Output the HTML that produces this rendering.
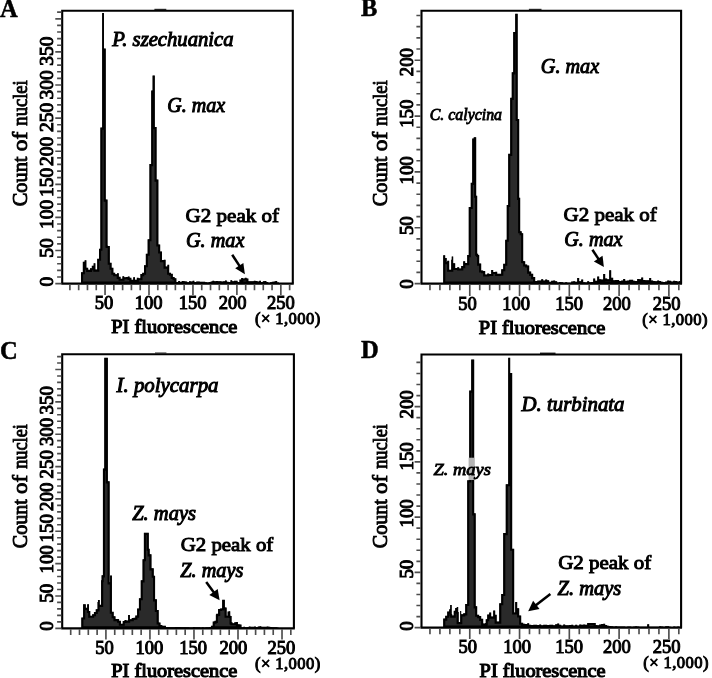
<!DOCTYPE html>
<html><head><meta charset="utf-8"><title>Flow cytometry histograms</title>
<style>
html,body{margin:0;padding:0;background:#fff;}
body{width:712px;height:678px;overflow:hidden;font-family:"Liberation Serif",serif;}
svg{display:block;font-family:"Liberation Serif",serif;filter:blur(0.35px);}
text{fill:#000;}
</style></head><body>
<svg width="712" height="678" viewBox="0 0 712 678">
<rect width="712" height="678" fill="#fff"/>
<g id="panelA">
<defs><clipPath id="chA0"><path d="M81.00,283.60L81.00,272.26L82.80,272.26L82.80,261.73L84.60,261.73L84.60,260.13L86.40,260.13L86.40,267.73L88.20,267.73L88.20,269.85L90.00,269.85L90.00,268.18L91.80,268.18L91.80,265.85L93.60,265.85L93.60,263.14L95.40,263.14L95.40,269.60L97.20,269.60L97.20,258.66L99.00,258.66L99.00,248.67L100.35,248.67L100.35,127.60L102.15,127.60L102.15,13.10L103.95,13.10L103.95,48.60L105.75,48.60L105.75,199.60L107.55,199.60L107.55,245.73L108.00,245.73L108.00,245.95L109.80,245.95L109.80,262.63L111.60,262.63L111.60,267.69L113.40,267.69L113.40,272.65L115.20,272.65L115.20,274.14L117.00,274.14L117.00,273.15L118.80,273.15L118.80,276.80L120.60,276.80L120.60,278.66L122.40,278.66L122.40,276.32L124.20,276.32L124.20,277.27L126.00,277.27L126.00,276.92L127.80,276.92L127.80,276.60L129.60,276.60L129.60,277.81L131.40,277.81L131.40,279.86L133.20,279.86L133.20,277.28L135.00,277.28L135.00,279.76L136.80,279.76L136.80,277.80L138.60,277.80L138.60,278.26L140.40,278.26L140.40,274.03L142.20,274.03L142.20,272.65L144.00,272.65L144.00,265.18L145.80,265.18L145.80,253.68L147.60,253.68L147.60,239.24L149.40,239.24L149.40,164.10L151.20,164.10L151.20,90.60L152.55,90.60L152.55,75.60L154.80,75.60L154.80,127.10L156.60,127.10L156.60,179.60L158.40,179.60L158.40,244.48L160.20,244.48L160.20,251.48L162.00,251.48L162.00,260.08L163.80,260.08L163.80,259.81L165.60,259.81L165.60,266.55L167.40,266.55L167.40,264.67L169.20,264.67L169.20,272.71L171.00,272.71L171.00,273.68L172.80,273.68L172.80,276.90L174.60,276.90L174.60,278.15L176.40,278.15L176.40,281.91L178.20,281.91L178.20,280.99L180.00,280.99L180.00,281.72L181.80,281.72L181.80,280.88L183.60,280.88L183.60,281.31L185.40,281.31L185.40,281.62L187.20,281.62L187.20,282.20L189.00,282.20L189.00,281.26L190.80,281.26L190.80,281.46L192.60,281.46L192.60,280.75L194.40,280.75L194.40,282.00L196.20,282.00L196.20,281.44L198.00,281.44L198.00,281.49L199.80,281.49L199.80,281.63L201.60,281.63L201.60,281.66L203.40,281.66L203.40,281.67L205.20,281.67L205.20,282.14L207.00,282.14L207.00,282.39L208.80,282.39L208.80,282.00L210.60,282.00L210.60,281.39L212.40,281.39L212.40,280.82L214.20,280.82L214.20,281.14L216.00,281.14L216.00,281.08L217.80,281.08L217.80,281.25L219.60,281.25L219.60,281.29L221.40,281.29L221.40,281.60L223.20,281.60L223.20,281.23L225.00,281.23L225.00,280.57L226.80,280.57L226.80,281.84L228.60,281.84L228.60,282.04L230.40,282.04L230.40,280.33L232.20,280.33L232.20,281.35L234.00,281.35L234.00,280.83L235.80,280.83L235.80,280.85L237.60,280.85L237.60,282.08L239.40,282.08L239.40,279.55L241.20,279.55L241.20,277.99L243.00,277.99L243.00,278.42L244.80,278.42L244.80,277.84L246.60,277.84L246.60,278.47L248.40,278.47L248.40,281.36L250.20,281.36L250.20,281.24L252.00,281.24L252.00,281.17L253.80,281.17L253.80,280.72L255.60,280.72L255.60,281.03L257.40,281.03L257.40,281.49L259.20,281.49L259.20,280.69L261.00,280.69L261.00,282.08L262.80,282.08L262.80,281.13L264.60,281.13L264.60,280.97L266.40,280.97L266.40,281.88L268.20,281.88L268.20,282.65L270.00,282.65L270.00,282.31L271.80,282.31L271.80,281.65L273.60,281.65L273.60,281.51L275.40,281.51L275.40,280.94L277.20,280.94L277.20,282.48L279.00,282.48L279.00,283.60Z"/></clipPath></defs>
<path d="M81.00,283.60L81.00,272.26L82.80,272.26L82.80,261.73L84.60,261.73L84.60,260.13L86.40,260.13L86.40,267.73L88.20,267.73L88.20,269.85L90.00,269.85L90.00,268.18L91.80,268.18L91.80,265.85L93.60,265.85L93.60,263.14L95.40,263.14L95.40,269.60L97.20,269.60L97.20,258.66L99.00,258.66L99.00,248.67L100.35,248.67L100.35,127.60L102.15,127.60L102.15,13.10L103.95,13.10L103.95,48.60L105.75,48.60L105.75,199.60L107.55,199.60L107.55,245.73L108.00,245.73L108.00,245.95L109.80,245.95L109.80,262.63L111.60,262.63L111.60,267.69L113.40,267.69L113.40,272.65L115.20,272.65L115.20,274.14L117.00,274.14L117.00,273.15L118.80,273.15L118.80,276.80L120.60,276.80L120.60,278.66L122.40,278.66L122.40,276.32L124.20,276.32L124.20,277.27L126.00,277.27L126.00,276.92L127.80,276.92L127.80,276.60L129.60,276.60L129.60,277.81L131.40,277.81L131.40,279.86L133.20,279.86L133.20,277.28L135.00,277.28L135.00,279.76L136.80,279.76L136.80,277.80L138.60,277.80L138.60,278.26L140.40,278.26L140.40,274.03L142.20,274.03L142.20,272.65L144.00,272.65L144.00,265.18L145.80,265.18L145.80,253.68L147.60,253.68L147.60,239.24L149.40,239.24L149.40,164.10L151.20,164.10L151.20,90.60L152.55,90.60L152.55,75.60L154.80,75.60L154.80,127.10L156.60,127.10L156.60,179.60L158.40,179.60L158.40,244.48L160.20,244.48L160.20,251.48L162.00,251.48L162.00,260.08L163.80,260.08L163.80,259.81L165.60,259.81L165.60,266.55L167.40,266.55L167.40,264.67L169.20,264.67L169.20,272.71L171.00,272.71L171.00,273.68L172.80,273.68L172.80,276.90L174.60,276.90L174.60,278.15L176.40,278.15L176.40,281.91L178.20,281.91L178.20,280.99L180.00,280.99L180.00,281.72L181.80,281.72L181.80,280.88L183.60,280.88L183.60,281.31L185.40,281.31L185.40,281.62L187.20,281.62L187.20,282.20L189.00,282.20L189.00,281.26L190.80,281.26L190.80,281.46L192.60,281.46L192.60,280.75L194.40,280.75L194.40,282.00L196.20,282.00L196.20,281.44L198.00,281.44L198.00,281.49L199.80,281.49L199.80,281.63L201.60,281.63L201.60,281.66L203.40,281.66L203.40,281.67L205.20,281.67L205.20,282.14L207.00,282.14L207.00,282.39L208.80,282.39L208.80,282.00L210.60,282.00L210.60,281.39L212.40,281.39L212.40,280.82L214.20,280.82L214.20,281.14L216.00,281.14L216.00,281.08L217.80,281.08L217.80,281.25L219.60,281.25L219.60,281.29L221.40,281.29L221.40,281.60L223.20,281.60L223.20,281.23L225.00,281.23L225.00,280.57L226.80,280.57L226.80,281.84L228.60,281.84L228.60,282.04L230.40,282.04L230.40,280.33L232.20,280.33L232.20,281.35L234.00,281.35L234.00,280.83L235.80,280.83L235.80,280.85L237.60,280.85L237.60,282.08L239.40,282.08L239.40,279.55L241.20,279.55L241.20,277.99L243.00,277.99L243.00,278.42L244.80,278.42L244.80,277.84L246.60,277.84L246.60,278.47L248.40,278.47L248.40,281.36L250.20,281.36L250.20,281.24L252.00,281.24L252.00,281.17L253.80,281.17L253.80,280.72L255.60,280.72L255.60,281.03L257.40,281.03L257.40,281.49L259.20,281.49L259.20,280.69L261.00,280.69L261.00,282.08L262.80,282.08L262.80,281.13L264.60,281.13L264.60,280.97L266.40,280.97L266.40,281.88L268.20,281.88L268.20,282.65L270.00,282.65L270.00,282.31L271.80,282.31L271.80,281.65L273.60,281.65L273.60,281.51L275.40,281.51L275.40,280.94L277.20,280.94L277.20,282.48L279.00,282.48L279.00,283.60Z" fill="#2a2a2a" stroke="#000" stroke-width="4.2" stroke-linejoin="miter" clip-path="url(#chA0)"/>
<path d="M62.2,283.6L62.2,10.7L292.8,10.7L292.8,283.6" fill="none" stroke="#000" stroke-width="2.1" stroke-linejoin="miter"/>
<path d="M61.25,283.6L293.75,283.6" fill="none" stroke="#000" stroke-width="2.2"/>
<path d="M69.89,284.6v5.6M78.68,284.6v5.6M87.47,284.6v5.6M96.26,284.6v5.6M105.05,284.6v10.3M113.84,284.6v5.6M122.63,284.6v5.6M131.42,284.6v5.6M140.21,284.6v5.6M149.00,284.6v10.3M157.79,284.6v5.6M166.58,284.6v5.6M175.37,284.6v5.6M184.16,284.6v5.6M192.95,284.6v10.3M201.74,284.6v5.6M210.53,284.6v5.6M219.32,284.6v5.6M228.11,284.6v5.6M236.90,284.6v10.3M245.69,284.6v5.6M254.48,284.6v5.6M263.27,284.6v5.6M272.06,284.6v5.6M280.85,284.6v10.3M289.64,284.6v5.6" stroke="#4d4d4d" stroke-width="1.65" fill="none"/>
<path d="M61.300000000000004,283.60h-6.0M61.300000000000004,276.98h-4.2M61.300000000000004,270.36h-4.2M61.300000000000004,263.74h-4.2M61.300000000000004,257.12h-4.2M61.300000000000004,250.50h-6.0M61.300000000000004,243.88h-4.2M61.300000000000004,237.26h-4.2M61.300000000000004,230.64h-4.2M61.300000000000004,224.02h-4.2M61.300000000000004,217.40h-6.0M61.300000000000004,210.78h-4.2M61.300000000000004,204.16h-4.2M61.300000000000004,197.54h-4.2M61.300000000000004,190.92h-4.2M61.300000000000004,184.30h-6.0M61.300000000000004,177.68h-4.2M61.300000000000004,171.06h-4.2M61.300000000000004,164.44h-4.2M61.300000000000004,157.82h-4.2M61.300000000000004,151.20h-6.0M61.300000000000004,144.58h-4.2M61.300000000000004,137.96h-4.2M61.300000000000004,131.34h-4.2M61.300000000000004,124.72h-4.2M61.300000000000004,118.10h-6.0M61.300000000000004,111.48h-4.2M61.300000000000004,104.86h-4.2M61.300000000000004,98.24h-4.2M61.300000000000004,91.62h-4.2M61.300000000000004,85.00h-6.0M61.300000000000004,78.38h-4.2M61.300000000000004,71.76h-4.2M61.300000000000004,65.14h-4.2M61.300000000000004,58.52h-4.2M61.300000000000004,51.90h-6.0M61.300000000000004,45.28h-4.2M61.300000000000004,38.66h-4.2M61.300000000000004,32.04h-4.2M61.300000000000004,25.42h-4.2M61.300000000000004,18.80h-6.0M61.300000000000004,12.18h-4.2" stroke="#4d4d4d" stroke-width="1.65" fill="none"/>
</g>
<g id="panelB">
<defs><clipPath id="chB0"><path d="M443.20,283.60L443.20,255.33L445.20,255.33L445.20,258.10L446.70,258.10L446.70,262.10L447.20,262.10L447.20,260.76L449.20,260.76L449.20,269.76L451.20,269.76L451.20,259.86L451.70,259.86L451.70,256.40L453.20,256.40L453.20,263.14L455.20,263.14L455.20,267.94L457.20,267.94L457.20,267.31L459.20,267.31L459.20,268.51L461.20,268.51L461.20,266.05L463.20,266.05L463.20,261.20L465.20,261.20L465.20,263.03L467.20,263.03L467.20,255.11L468.70,255.11L468.70,207.00L470.70,207.00L470.70,182.80L472.20,182.80L472.20,138.60L473.70,138.60L473.70,137.30L476.20,137.30L476.20,195.70L477.20,195.70L477.20,253.70L478.20,253.70L478.20,254.98L479.20,254.98L479.20,263.62L481.20,263.62L481.20,270.51L483.20,270.51L483.20,271.05L485.20,271.05L485.20,274.52L487.20,274.52L487.20,273.38L489.20,273.38L489.20,274.01L491.20,274.01L491.20,269.90L493.20,269.90L493.20,272.02L495.20,272.02L495.20,271.75L497.20,271.75L497.20,273.82L499.20,273.82L499.20,273.76L501.20,273.76L501.20,269.19L503.20,269.19L503.20,263.71L505.20,263.71L505.20,239.70L506.70,239.70L506.70,205.00L508.20,205.00L508.20,153.80L510.20,153.80L510.20,97.80L511.70,97.80L511.70,72.30L513.20,72.30L513.20,31.90L515.20,31.90L515.20,13.80L517.70,13.80L517.70,119.00L519.20,119.00L519.20,197.80L520.20,197.80L520.20,231.20L521.70,231.20L521.70,233.13L523.20,233.13L523.20,260.90L523.70,260.90L523.70,261.26L525.20,261.26L525.20,264.46L527.20,264.46L527.20,265.48L529.20,265.48L529.20,271.54L531.20,271.54L531.20,273.85L533.20,273.85L533.20,277.12L535.20,277.12L535.20,280.93L537.20,280.93L537.20,280.52L539.20,280.52L539.20,280.50L541.20,280.50L541.20,279.25L543.20,279.25L543.20,280.42L545.20,280.42L545.20,279.48L547.20,279.48L547.20,280.21L549.20,280.21L549.20,281.80L551.20,281.80L551.20,280.84L553.20,280.84L553.20,280.60L555.20,280.60L555.20,281.18L557.20,281.18L557.20,282.42L559.20,282.42L559.20,281.96L561.20,281.96L561.20,282.36L563.20,282.36L563.20,282.71L565.20,282.71L565.20,282.36L567.20,282.36L567.20,282.71L569.20,282.71L569.20,282.64L571.20,282.64L571.20,281.55L573.20,281.55L573.20,281.33L575.20,281.33L575.20,281.70L577.20,281.70L577.20,277.90L579.20,277.90L579.20,281.20L581.20,281.20L581.20,279.60L583.20,279.60L583.20,282.28L585.20,282.28L585.20,282.39L587.20,282.39L587.20,281.18L589.20,281.18L589.20,282.16L591.20,282.16L591.20,282.03L593.20,282.03L593.20,278.60L595.20,278.60L595.20,280.67L597.20,280.67L597.20,276.60L599.20,276.60L599.20,279.32L601.20,279.32L601.20,279.59L603.20,279.59L603.20,274.10L605.20,274.10L605.20,278.61L607.20,278.61L607.20,279.15L609.20,279.15L609.20,270.30L611.20,270.30L611.20,277.83L613.20,277.83L613.20,280.30L615.20,280.30L615.20,280.06L617.20,280.06L617.20,280.10L619.20,280.10L619.20,280.94L621.20,280.94L621.20,280.58L623.20,280.58L623.20,279.10L625.20,279.10L625.20,280.68L627.20,280.68L627.20,280.38L629.20,280.38L629.20,279.73L631.20,279.73L631.20,279.81L633.20,279.81L633.20,280.69L635.20,280.69L635.20,280.98L637.20,280.98L637.20,278.99L639.20,278.99L639.20,279.35L641.20,279.35L641.20,277.60L643.20,277.60L643.20,279.89L645.20,279.89L645.20,280.31L647.20,280.31L647.20,280.18L649.20,280.18L649.20,278.10L651.20,278.10L651.20,280.61L653.20,280.61L653.20,281.12L655.20,281.12L655.20,281.17L657.20,281.17L657.20,280.52L659.20,280.52L659.20,280.97L661.20,280.97L661.20,281.75L663.20,281.75L663.20,281.89L665.20,281.89L665.20,281.43L667.20,281.43L667.20,280.59L669.20,280.59L669.20,280.73L671.20,280.73L671.20,281.53L673.20,281.53L673.20,280.67L675.20,280.67L675.20,281.06L677.20,281.06L677.20,281.61L679.20,281.61L679.20,281.11L680.50,281.11L680.50,283.60Z"/></clipPath></defs>
<path d="M443.20,283.60L443.20,255.33L445.20,255.33L445.20,258.10L446.70,258.10L446.70,262.10L447.20,262.10L447.20,260.76L449.20,260.76L449.20,269.76L451.20,269.76L451.20,259.86L451.70,259.86L451.70,256.40L453.20,256.40L453.20,263.14L455.20,263.14L455.20,267.94L457.20,267.94L457.20,267.31L459.20,267.31L459.20,268.51L461.20,268.51L461.20,266.05L463.20,266.05L463.20,261.20L465.20,261.20L465.20,263.03L467.20,263.03L467.20,255.11L468.70,255.11L468.70,207.00L470.70,207.00L470.70,182.80L472.20,182.80L472.20,138.60L473.70,138.60L473.70,137.30L476.20,137.30L476.20,195.70L477.20,195.70L477.20,253.70L478.20,253.70L478.20,254.98L479.20,254.98L479.20,263.62L481.20,263.62L481.20,270.51L483.20,270.51L483.20,271.05L485.20,271.05L485.20,274.52L487.20,274.52L487.20,273.38L489.20,273.38L489.20,274.01L491.20,274.01L491.20,269.90L493.20,269.90L493.20,272.02L495.20,272.02L495.20,271.75L497.20,271.75L497.20,273.82L499.20,273.82L499.20,273.76L501.20,273.76L501.20,269.19L503.20,269.19L503.20,263.71L505.20,263.71L505.20,239.70L506.70,239.70L506.70,205.00L508.20,205.00L508.20,153.80L510.20,153.80L510.20,97.80L511.70,97.80L511.70,72.30L513.20,72.30L513.20,31.90L515.20,31.90L515.20,13.80L517.70,13.80L517.70,119.00L519.20,119.00L519.20,197.80L520.20,197.80L520.20,231.20L521.70,231.20L521.70,233.13L523.20,233.13L523.20,260.90L523.70,260.90L523.70,261.26L525.20,261.26L525.20,264.46L527.20,264.46L527.20,265.48L529.20,265.48L529.20,271.54L531.20,271.54L531.20,273.85L533.20,273.85L533.20,277.12L535.20,277.12L535.20,280.93L537.20,280.93L537.20,280.52L539.20,280.52L539.20,280.50L541.20,280.50L541.20,279.25L543.20,279.25L543.20,280.42L545.20,280.42L545.20,279.48L547.20,279.48L547.20,280.21L549.20,280.21L549.20,281.80L551.20,281.80L551.20,280.84L553.20,280.84L553.20,280.60L555.20,280.60L555.20,281.18L557.20,281.18L557.20,282.42L559.20,282.42L559.20,281.96L561.20,281.96L561.20,282.36L563.20,282.36L563.20,282.71L565.20,282.71L565.20,282.36L567.20,282.36L567.20,282.71L569.20,282.71L569.20,282.64L571.20,282.64L571.20,281.55L573.20,281.55L573.20,281.33L575.20,281.33L575.20,281.70L577.20,281.70L577.20,277.90L579.20,277.90L579.20,281.20L581.20,281.20L581.20,279.60L583.20,279.60L583.20,282.28L585.20,282.28L585.20,282.39L587.20,282.39L587.20,281.18L589.20,281.18L589.20,282.16L591.20,282.16L591.20,282.03L593.20,282.03L593.20,278.60L595.20,278.60L595.20,280.67L597.20,280.67L597.20,276.60L599.20,276.60L599.20,279.32L601.20,279.32L601.20,279.59L603.20,279.59L603.20,274.10L605.20,274.10L605.20,278.61L607.20,278.61L607.20,279.15L609.20,279.15L609.20,270.30L611.20,270.30L611.20,277.83L613.20,277.83L613.20,280.30L615.20,280.30L615.20,280.06L617.20,280.06L617.20,280.10L619.20,280.10L619.20,280.94L621.20,280.94L621.20,280.58L623.20,280.58L623.20,279.10L625.20,279.10L625.20,280.68L627.20,280.68L627.20,280.38L629.20,280.38L629.20,279.73L631.20,279.73L631.20,279.81L633.20,279.81L633.20,280.69L635.20,280.69L635.20,280.98L637.20,280.98L637.20,278.99L639.20,278.99L639.20,279.35L641.20,279.35L641.20,277.60L643.20,277.60L643.20,279.89L645.20,279.89L645.20,280.31L647.20,280.31L647.20,280.18L649.20,280.18L649.20,278.10L651.20,278.10L651.20,280.61L653.20,280.61L653.20,281.12L655.20,281.12L655.20,281.17L657.20,281.17L657.20,280.52L659.20,280.52L659.20,280.97L661.20,280.97L661.20,281.75L663.20,281.75L663.20,281.89L665.20,281.89L665.20,281.43L667.20,281.43L667.20,280.59L669.20,280.59L669.20,280.73L671.20,280.73L671.20,281.53L673.20,281.53L673.20,280.67L675.20,280.67L675.20,281.06L677.20,281.06L677.20,281.61L679.20,281.61L679.20,281.11L680.50,281.11L680.50,283.60Z" fill="#2a2a2a" stroke="#000" stroke-width="4.2" stroke-linejoin="miter" clip-path="url(#chB0)"/>
<path d="M421.5,283.6L421.5,10.7L681.1,10.7L681.1,283.6" fill="none" stroke="#000" stroke-width="2.1" stroke-linejoin="miter"/>
<path d="M420.55,283.6L682.0500000000001,283.6" fill="none" stroke="#000" stroke-width="2.2"/>
<path d="M429.95,284.6v5.6M439.91,284.6v5.6M449.87,284.6v5.6M459.82,284.6v5.6M469.77,284.6v11.3M479.73,284.6v5.6M489.69,284.6v5.6M499.64,284.6v5.6M509.60,284.6v5.6M519.55,284.6v11.3M529.50,284.6v5.6M539.46,284.6v5.6M549.41,284.6v5.6M559.37,284.6v5.6M569.33,284.6v11.3M579.28,284.6v5.6M589.24,284.6v5.6M599.19,284.6v5.6M609.14,284.6v5.6M619.10,284.6v11.3M629.06,284.6v5.6M639.01,284.6v5.6M648.97,284.6v5.6M658.92,284.6v5.6M668.88,284.6v11.3M678.83,284.6v5.6" stroke="#4d4d4d" stroke-width="1.65" fill="none"/>
<path d="M420.6,283.60h-6.0M420.6,272.43h-4.2M420.6,261.26h-4.2M420.6,250.09h-4.2M420.6,238.92h-4.2M420.6,227.75h-6.0M420.6,216.58h-4.2M420.6,205.41h-4.2M420.6,194.24h-4.2M420.6,183.07h-4.2M420.6,171.90h-6.0M420.6,160.73h-4.2M420.6,149.56h-4.2M420.6,138.39h-4.2M420.6,127.22h-4.2M420.6,116.05h-6.0M420.6,104.88h-4.2M420.6,93.71h-4.2M420.6,82.54h-4.2M420.6,71.37h-4.2M420.6,60.20h-6.0M420.6,49.03h-4.2M420.6,37.86h-4.2M420.6,26.69h-4.2M420.6,15.52h-4.2" stroke="#4d4d4d" stroke-width="1.65" fill="none"/>
</g>
<g id="panelC">
<defs><clipPath id="chC0"><path d="M81.30,628.30L81.30,617.40L83.10,617.40L83.10,604.30L85.80,604.30L85.80,607.80L87.15,607.80L87.15,604.30L88.95,604.30L88.95,610.91L90.30,610.91L90.30,615.76L92.10,615.76L92.10,614.20L93.90,614.20L93.90,611.94L95.70,611.94L95.70,609.37L97.50,609.37L97.50,602.04L97.95,602.04L97.95,600.00L99.75,600.00L99.75,604.86L101.10,604.86L101.10,580.22L101.55,580.22L101.55,575.30L102.90,575.30L102.90,468.60L104.25,468.60L104.25,357.80L107.85,357.80L107.85,481.30L109.65,481.30L109.65,582.30L110.10,582.30L110.10,575.62L111.90,575.62L111.90,611.72L113.70,611.72L113.70,616.23L115.50,616.23L115.50,619.03L117.30,619.03L117.30,619.01L119.10,619.01L119.10,620.77L120.90,620.77L120.90,623.68L122.70,623.68L122.70,620.90L124.50,620.90L124.50,619.97L126.30,619.97L126.30,620.59L128.10,620.59L128.10,615.11L129.90,615.11L129.90,619.27L131.70,619.27L131.70,617.92L133.50,617.92L133.50,617.66L135.30,617.66L135.30,615.61L137.10,615.61L137.10,608.46L138.90,608.46L138.90,598.13L140.70,598.13L140.70,580.35L142.50,580.35L142.50,559.19L143.85,559.19L143.85,532.80L148.80,532.80L148.80,548.77L149.70,548.77L149.70,554.30L151.50,554.30L151.50,568.30L153.75,568.30L153.75,575.71L155.10,575.71L155.10,599.30L156.90,599.30L156.90,609.94L158.70,609.94L158.70,622.50L160.50,622.50L160.50,625.01L162.30,625.01L162.30,625.70L164.10,625.70L164.10,625.85L165.90,625.85L165.90,626.96L167.70,626.96L167.70,627.11L169.50,627.11L169.50,627.16L171.30,627.16L171.30,627.13L173.10,627.13L173.10,627.37L174.90,627.37L174.90,627.11L176.70,627.11L176.70,626.95L178.50,626.95L178.50,627.07L180.30,627.07L180.30,627.23L182.10,627.23L182.10,627.31L183.90,627.31L183.90,627.30L185.70,627.30L185.70,627.35L187.50,627.35L187.50,627.37L189.30,627.37L189.30,627.41L191.10,627.41L191.10,627.45L192.90,627.45L192.90,626.92L194.70,626.92L194.70,627.16L196.50,627.16L196.50,627.19L198.30,627.19L198.30,627.25L200.10,627.25L200.10,627.45L201.90,627.45L201.90,627.31L203.70,627.31L203.70,627.52L205.50,627.52L205.50,627.23L207.30,627.23L207.30,627.29L209.10,627.29L209.10,627.03L210.90,627.03L210.90,625.84L212.70,625.84L212.70,621.53L214.50,621.53L214.50,620.80L215.85,620.80L215.85,614.50L216.30,614.50L216.30,613.80L218.10,613.80L218.10,608.90L219.90,608.90L219.90,608.45L221.70,608.45L221.70,608.30L222.15,608.30L222.15,599.80L224.85,599.80L224.85,607.30L225.30,607.30L225.30,607.50L226.65,607.50L226.65,615.70L227.55,615.70L227.55,611.40L228.90,611.40L228.90,611.35L230.25,611.35L230.25,615.70L230.70,615.70L230.70,615.90L231.60,615.90L231.60,622.30L232.50,622.30L232.50,623.17L234.30,623.17L234.30,622.30L236.10,622.30L236.10,622.10L237.90,622.10L237.90,624.30L239.70,624.30L239.70,624.53L241.50,624.53L241.50,627.15L243.30,627.15L243.30,626.83L245.10,626.83L245.10,627.23L246.90,627.23L246.90,627.11L248.70,627.11L248.70,626.61L250.50,626.61L250.50,626.72L252.30,626.72L252.30,626.74L254.10,626.74L254.10,626.49L255.90,626.49L255.90,627.03L257.70,627.03L257.70,626.52L259.50,626.52L259.50,626.28L261.30,626.28L261.30,626.77L263.10,626.77L263.10,626.76L264.90,626.76L264.90,626.82L266.70,626.82L266.70,626.55L268.50,626.55L268.50,626.63L270.30,626.63L270.30,626.99L272.10,626.99L272.10,627.33L273.90,627.33L273.90,627.19L275.70,627.19L275.70,627.35L277.50,627.35L277.50,627.72L279.00,627.72L279.00,628.30Z"/></clipPath></defs>
<path d="M81.30,628.30L81.30,617.40L83.10,617.40L83.10,604.30L85.80,604.30L85.80,607.80L87.15,607.80L87.15,604.30L88.95,604.30L88.95,610.91L90.30,610.91L90.30,615.76L92.10,615.76L92.10,614.20L93.90,614.20L93.90,611.94L95.70,611.94L95.70,609.37L97.50,609.37L97.50,602.04L97.95,602.04L97.95,600.00L99.75,600.00L99.75,604.86L101.10,604.86L101.10,580.22L101.55,580.22L101.55,575.30L102.90,575.30L102.90,468.60L104.25,468.60L104.25,357.80L107.85,357.80L107.85,481.30L109.65,481.30L109.65,582.30L110.10,582.30L110.10,575.62L111.90,575.62L111.90,611.72L113.70,611.72L113.70,616.23L115.50,616.23L115.50,619.03L117.30,619.03L117.30,619.01L119.10,619.01L119.10,620.77L120.90,620.77L120.90,623.68L122.70,623.68L122.70,620.90L124.50,620.90L124.50,619.97L126.30,619.97L126.30,620.59L128.10,620.59L128.10,615.11L129.90,615.11L129.90,619.27L131.70,619.27L131.70,617.92L133.50,617.92L133.50,617.66L135.30,617.66L135.30,615.61L137.10,615.61L137.10,608.46L138.90,608.46L138.90,598.13L140.70,598.13L140.70,580.35L142.50,580.35L142.50,559.19L143.85,559.19L143.85,532.80L148.80,532.80L148.80,548.77L149.70,548.77L149.70,554.30L151.50,554.30L151.50,568.30L153.75,568.30L153.75,575.71L155.10,575.71L155.10,599.30L156.90,599.30L156.90,609.94L158.70,609.94L158.70,622.50L160.50,622.50L160.50,625.01L162.30,625.01L162.30,625.70L164.10,625.70L164.10,625.85L165.90,625.85L165.90,626.96L167.70,626.96L167.70,627.11L169.50,627.11L169.50,627.16L171.30,627.16L171.30,627.13L173.10,627.13L173.10,627.37L174.90,627.37L174.90,627.11L176.70,627.11L176.70,626.95L178.50,626.95L178.50,627.07L180.30,627.07L180.30,627.23L182.10,627.23L182.10,627.31L183.90,627.31L183.90,627.30L185.70,627.30L185.70,627.35L187.50,627.35L187.50,627.37L189.30,627.37L189.30,627.41L191.10,627.41L191.10,627.45L192.90,627.45L192.90,626.92L194.70,626.92L194.70,627.16L196.50,627.16L196.50,627.19L198.30,627.19L198.30,627.25L200.10,627.25L200.10,627.45L201.90,627.45L201.90,627.31L203.70,627.31L203.70,627.52L205.50,627.52L205.50,627.23L207.30,627.23L207.30,627.29L209.10,627.29L209.10,627.03L210.90,627.03L210.90,625.84L212.70,625.84L212.70,621.53L214.50,621.53L214.50,620.80L215.85,620.80L215.85,614.50L216.30,614.50L216.30,613.80L218.10,613.80L218.10,608.90L219.90,608.90L219.90,608.45L221.70,608.45L221.70,608.30L222.15,608.30L222.15,599.80L224.85,599.80L224.85,607.30L225.30,607.30L225.30,607.50L226.65,607.50L226.65,615.70L227.55,615.70L227.55,611.40L228.90,611.40L228.90,611.35L230.25,611.35L230.25,615.70L230.70,615.70L230.70,615.90L231.60,615.90L231.60,622.30L232.50,622.30L232.50,623.17L234.30,623.17L234.30,622.30L236.10,622.30L236.10,622.10L237.90,622.10L237.90,624.30L239.70,624.30L239.70,624.53L241.50,624.53L241.50,627.15L243.30,627.15L243.30,626.83L245.10,626.83L245.10,627.23L246.90,627.23L246.90,627.11L248.70,627.11L248.70,626.61L250.50,626.61L250.50,626.72L252.30,626.72L252.30,626.74L254.10,626.74L254.10,626.49L255.90,626.49L255.90,627.03L257.70,627.03L257.70,626.52L259.50,626.52L259.50,626.28L261.30,626.28L261.30,626.77L263.10,626.77L263.10,626.76L264.90,626.76L264.90,626.82L266.70,626.82L266.70,626.55L268.50,626.55L268.50,626.63L270.30,626.63L270.30,626.99L272.10,626.99L272.10,627.33L273.90,627.33L273.90,627.19L275.70,627.19L275.70,627.35L277.50,627.35L277.50,627.72L279.00,627.72L279.00,628.30Z" fill="#2a2a2a" stroke="#000" stroke-width="4.2" stroke-linejoin="miter" clip-path="url(#chC0)"/>
<path d="M62.2,628.3L62.2,354.3L293.9,354.3L293.9,628.3" fill="none" stroke="#000" stroke-width="2.1" stroke-linejoin="miter"/>
<path d="M61.25,628.3L294.84999999999997,628.3" fill="none" stroke="#000" stroke-width="2.2"/>
<path d="M70.70,629.3v5.6M79.51,629.3v5.6M88.31,629.3v5.6M97.12,629.3v5.6M105.92,629.3v10.3M114.73,629.3v5.6M123.53,629.3v5.6M132.34,629.3v5.6M141.14,629.3v5.6M149.95,629.3v10.3M158.75,629.3v5.6M167.56,629.3v5.6M176.36,629.3v5.6M185.17,629.3v5.6M193.97,629.3v10.3M202.78,629.3v5.6M211.59,629.3v5.6M220.39,629.3v5.6M229.19,629.3v5.6M238.00,629.3v10.3M246.81,629.3v5.6M255.61,629.3v5.6M264.41,629.3v5.6M273.22,629.3v5.6M282.02,629.3v10.3M290.83,629.3v5.6" stroke="#4d4d4d" stroke-width="1.65" fill="none"/>
<path d="M61.300000000000004,628.30h-6.0M61.300000000000004,621.83h-4.2M61.300000000000004,615.36h-4.2M61.300000000000004,608.89h-4.2M61.300000000000004,602.42h-4.2M61.300000000000004,595.95h-6.0M61.300000000000004,589.48h-4.2M61.300000000000004,583.01h-4.2M61.300000000000004,576.54h-4.2M61.300000000000004,570.07h-4.2M61.300000000000004,563.60h-6.0M61.300000000000004,557.13h-4.2M61.300000000000004,550.66h-4.2M61.300000000000004,544.19h-4.2M61.300000000000004,537.72h-4.2M61.300000000000004,531.25h-6.0M61.300000000000004,524.78h-4.2M61.300000000000004,518.31h-4.2M61.300000000000004,511.84h-4.2M61.300000000000004,505.37h-4.2M61.300000000000004,498.90h-6.0M61.300000000000004,492.43h-4.2M61.300000000000004,485.96h-4.2M61.300000000000004,479.49h-4.2M61.300000000000004,473.02h-4.2M61.300000000000004,466.55h-6.0M61.300000000000004,460.08h-4.2M61.300000000000004,453.61h-4.2M61.300000000000004,447.14h-4.2M61.300000000000004,440.67h-4.2M61.300000000000004,434.20h-6.0M61.300000000000004,427.73h-4.2M61.300000000000004,421.26h-4.2M61.300000000000004,414.79h-4.2M61.300000000000004,408.32h-4.2M61.300000000000004,401.85h-6.0M61.300000000000004,395.38h-4.2M61.300000000000004,388.91h-4.2M61.300000000000004,382.44h-4.2M61.300000000000004,375.97h-4.2M61.300000000000004,369.50h-6.0M61.300000000000004,363.03h-4.2M61.300000000000004,356.56h-4.2" stroke="#4d4d4d" stroke-width="1.65" fill="none"/>
</g>
<g id="panelD">
<defs><clipPath id="chD0"><path d="M443.20,627.60L443.20,618.58L445.20,618.58L445.20,615.74L447.20,615.74L447.20,611.59L449.20,611.59L449.20,609.24L450.20,609.24L450.20,604.90L451.70,604.90L451.70,613.97L452.20,613.97L452.20,615.60L453.70,615.60L453.70,610.85L455.20,610.85L455.20,608.08L456.70,608.08L456.70,607.10L458.20,607.10L458.20,611.90L458.70,611.90L458.70,622.10L460.20,622.10L460.20,610.91L461.20,610.91L461.20,614.32L463.20,614.32L463.20,613.33L465.20,613.33L465.20,603.92L467.20,603.92L467.20,480.30L469.20,480.30L469.20,390.60L471.20,390.60L471.20,359.50L474.20,359.50L474.20,513.30L475.70,513.30L475.70,606.29L477.20,606.29L477.20,614.73L479.20,614.73L479.20,616.05L481.20,616.05L481.20,618.81L483.20,618.81L483.20,623.40L485.20,623.40L485.20,623.10L485.70,623.10L485.70,619.25L487.20,619.25L487.20,614.49L489.20,614.49L489.20,612.48L491.20,612.48L491.20,616.53L493.20,616.53L493.20,610.47L495.20,610.47L495.20,614.73L496.70,614.73L496.70,621.60L499.20,621.60L499.20,603.23L501.20,603.23L501.20,593.88L503.20,593.88L503.20,533.10L505.70,533.10L505.70,484.20L508.20,484.20L508.20,357.80L510.20,357.80L510.20,372.90L512.20,372.90L512.20,548.70L514.20,548.70L514.20,612.46L515.20,612.46L515.20,602.04L517.20,602.04L517.20,608.16L519.20,608.16L519.20,615.39L521.20,615.39L521.20,622.72L523.20,622.72L523.20,623.82L525.20,623.82L525.20,623.91L527.20,623.91L527.20,623.20L529.20,623.20L529.20,624.87L531.20,624.87L531.20,625.08L533.20,625.08L533.20,624.79L535.20,624.79L535.20,624.75L537.20,624.75L537.20,624.94L539.20,624.94L539.20,624.57L541.20,624.57L541.20,625.13L543.20,625.13L543.20,624.77L545.20,624.77L545.20,624.63L547.20,624.63L547.20,625.05L549.20,625.05L549.20,624.85L551.20,624.85L551.20,624.86L553.20,624.86L553.20,625.36L555.20,625.36L555.20,624.31L557.20,624.31L557.20,623.40L559.20,623.40L559.20,624.68L561.20,624.68L561.20,625.41L563.20,625.41L563.20,624.54L565.20,624.54L565.20,625.16L567.20,625.16L567.20,625.35L569.20,625.35L569.20,625.09L571.20,625.09L571.20,624.71L573.20,624.71L573.20,625.44L575.20,625.44L575.20,624.67L577.20,624.67L577.20,625.42L579.20,625.42L579.20,624.61L581.20,624.61L581.20,624.87L583.20,624.87L583.20,624.55L585.20,624.55L585.20,624.68L587.20,624.68L587.20,623.00L595.70,623.00L595.70,624.99L597.20,624.99L597.20,625.34L599.20,625.34L599.20,624.59L601.20,624.59L601.20,624.04L603.20,624.04L603.20,623.70L605.20,623.70L605.20,624.96L607.20,624.96L607.20,625.86L609.20,625.86L609.20,626.04L611.20,626.04L611.20,626.14L613.20,626.14L613.20,626.44L615.20,626.44L615.20,626.29L617.20,626.29L617.20,626.55L619.20,626.55L619.20,626.56L621.20,626.56L621.20,626.44L623.20,626.44L623.20,626.60L625.20,626.60L625.20,626.64L627.20,626.64L627.20,626.47L629.20,626.47L629.20,626.59L631.20,626.59L631.20,626.81L633.20,626.81L633.20,626.41L635.20,626.41L635.20,626.24L637.20,626.24L637.20,626.52L639.20,626.52L639.20,626.69L641.20,626.69L641.20,626.85L643.20,626.85L643.20,626.79L645.20,626.79L645.20,626.67L647.20,626.67L647.20,624.20L649.20,624.20L649.20,626.64L651.20,626.64L651.20,626.68L653.20,626.68L653.20,626.87L655.20,626.87L655.20,626.63L657.20,626.63L657.20,626.82L659.20,626.82L659.20,626.27L661.20,626.27L661.20,626.56L663.20,626.56L663.20,626.66L665.20,626.66L665.20,626.27L669.20,626.27L669.20,626.63L671.20,626.63L671.20,626.89L673.20,626.89L673.20,626.38L675.20,626.38L675.20,626.73L677.20,626.73L677.20,626.49L679.20,626.49L679.20,626.85L680.50,626.85L680.50,627.60Z"/></clipPath></defs>
<path d="M443.20,627.60L443.20,618.58L445.20,618.58L445.20,615.74L447.20,615.74L447.20,611.59L449.20,611.59L449.20,609.24L450.20,609.24L450.20,604.90L451.70,604.90L451.70,613.97L452.20,613.97L452.20,615.60L453.70,615.60L453.70,610.85L455.20,610.85L455.20,608.08L456.70,608.08L456.70,607.10L458.20,607.10L458.20,611.90L458.70,611.90L458.70,622.10L460.20,622.10L460.20,610.91L461.20,610.91L461.20,614.32L463.20,614.32L463.20,613.33L465.20,613.33L465.20,603.92L467.20,603.92L467.20,480.30L469.20,480.30L469.20,390.60L471.20,390.60L471.20,359.50L474.20,359.50L474.20,513.30L475.70,513.30L475.70,606.29L477.20,606.29L477.20,614.73L479.20,614.73L479.20,616.05L481.20,616.05L481.20,618.81L483.20,618.81L483.20,623.40L485.20,623.40L485.20,623.10L485.70,623.10L485.70,619.25L487.20,619.25L487.20,614.49L489.20,614.49L489.20,612.48L491.20,612.48L491.20,616.53L493.20,616.53L493.20,610.47L495.20,610.47L495.20,614.73L496.70,614.73L496.70,621.60L499.20,621.60L499.20,603.23L501.20,603.23L501.20,593.88L503.20,593.88L503.20,533.10L505.70,533.10L505.70,484.20L508.20,484.20L508.20,357.80L510.20,357.80L510.20,372.90L512.20,372.90L512.20,548.70L514.20,548.70L514.20,612.46L515.20,612.46L515.20,602.04L517.20,602.04L517.20,608.16L519.20,608.16L519.20,615.39L521.20,615.39L521.20,622.72L523.20,622.72L523.20,623.82L525.20,623.82L525.20,623.91L527.20,623.91L527.20,623.20L529.20,623.20L529.20,624.87L531.20,624.87L531.20,625.08L533.20,625.08L533.20,624.79L535.20,624.79L535.20,624.75L537.20,624.75L537.20,624.94L539.20,624.94L539.20,624.57L541.20,624.57L541.20,625.13L543.20,625.13L543.20,624.77L545.20,624.77L545.20,624.63L547.20,624.63L547.20,625.05L549.20,625.05L549.20,624.85L551.20,624.85L551.20,624.86L553.20,624.86L553.20,625.36L555.20,625.36L555.20,624.31L557.20,624.31L557.20,623.40L559.20,623.40L559.20,624.68L561.20,624.68L561.20,625.41L563.20,625.41L563.20,624.54L565.20,624.54L565.20,625.16L567.20,625.16L567.20,625.35L569.20,625.35L569.20,625.09L571.20,625.09L571.20,624.71L573.20,624.71L573.20,625.44L575.20,625.44L575.20,624.67L577.20,624.67L577.20,625.42L579.20,625.42L579.20,624.61L581.20,624.61L581.20,624.87L583.20,624.87L583.20,624.55L585.20,624.55L585.20,624.68L587.20,624.68L587.20,623.00L595.70,623.00L595.70,624.99L597.20,624.99L597.20,625.34L599.20,625.34L599.20,624.59L601.20,624.59L601.20,624.04L603.20,624.04L603.20,623.70L605.20,623.70L605.20,624.96L607.20,624.96L607.20,625.86L609.20,625.86L609.20,626.04L611.20,626.04L611.20,626.14L613.20,626.14L613.20,626.44L615.20,626.44L615.20,626.29L617.20,626.29L617.20,626.55L619.20,626.55L619.20,626.56L621.20,626.56L621.20,626.44L623.20,626.44L623.20,626.60L625.20,626.60L625.20,626.64L627.20,626.64L627.20,626.47L629.20,626.47L629.20,626.59L631.20,626.59L631.20,626.81L633.20,626.81L633.20,626.41L635.20,626.41L635.20,626.24L637.20,626.24L637.20,626.52L639.20,626.52L639.20,626.69L641.20,626.69L641.20,626.85L643.20,626.85L643.20,626.79L645.20,626.79L645.20,626.67L647.20,626.67L647.20,624.20L649.20,624.20L649.20,626.64L651.20,626.64L651.20,626.68L653.20,626.68L653.20,626.87L655.20,626.87L655.20,626.63L657.20,626.63L657.20,626.82L659.20,626.82L659.20,626.27L661.20,626.27L661.20,626.56L663.20,626.56L663.20,626.66L665.20,626.66L665.20,626.27L669.20,626.27L669.20,626.63L671.20,626.63L671.20,626.89L673.20,626.89L673.20,626.38L675.20,626.38L675.20,626.73L677.20,626.73L677.20,626.49L679.20,626.49L679.20,626.85L680.50,626.85L680.50,627.60Z" fill="#2a2a2a" stroke="#000" stroke-width="4.2" stroke-linejoin="miter" clip-path="url(#chD0)"/>
<path d="M421.5,627.6L421.5,354.5L681.1,354.5L681.1,627.6" fill="none" stroke="#000" stroke-width="2.1" stroke-linejoin="miter"/>
<path d="M420.55,627.6L682.0500000000001,627.6" fill="none" stroke="#000" stroke-width="2.2"/>
<path d="M429.95,628.6v5.6M439.91,628.6v5.6M449.87,628.6v5.6M459.82,628.6v5.6M469.77,628.6v10.3M479.73,628.6v5.6M489.69,628.6v5.6M499.64,628.6v5.6M509.60,628.6v5.6M519.55,628.6v10.3M529.50,628.6v5.6M539.46,628.6v5.6M549.41,628.6v5.6M559.37,628.6v5.6M569.33,628.6v10.3M579.28,628.6v5.6M589.24,628.6v5.6M599.19,628.6v5.6M609.14,628.6v5.6M619.10,628.6v10.3M629.06,628.6v5.6M639.01,628.6v5.6M648.97,628.6v5.6M658.92,628.6v5.6M668.88,628.6v10.3M678.83,628.6v5.6" stroke="#4d4d4d" stroke-width="1.65" fill="none"/>
<path d="M420.6,627.60h-6.0M420.6,616.55h-4.2M420.6,605.50h-4.2M420.6,594.45h-4.2M420.6,583.40h-4.2M420.6,572.35h-6.0M420.6,561.30h-4.2M420.6,550.25h-4.2M420.6,539.20h-4.2M420.6,528.15h-4.2M420.6,517.10h-6.0M420.6,506.05h-4.2M420.6,495.00h-4.2M420.6,483.95h-4.2M420.6,472.90h-4.2M420.6,461.85h-6.0M420.6,450.80h-4.2M420.6,439.75h-4.2M420.6,428.70h-4.2M420.6,417.65h-4.2M420.6,406.60h-6.0M420.6,395.55h-4.2M420.6,384.50h-4.2M420.6,373.45h-4.2M420.6,362.40h-4.2" stroke="#4d4d4d" stroke-width="1.65" fill="none"/>
</g>
<g id="extra">
<rect x="154.4" y="8.8" width="11.9" height="1.2" fill="#222"/><rect x="528.9" y="8.8" width="12.6" height="1.2" fill="#222"/><rect x="155.0" y="352.5" width="11.4" height="1.2" fill="#222"/><rect x="540.0" y="352.6" width="15.5" height="1.4" fill="#111"/><rect x="468.6" y="457.7" width="5.6" height="22.3" fill="#b4b4b4"/>
</g>
<g id="arrows">
<path d="M232.20,254.80L239.81,266.42" stroke="#000" stroke-width="2.5" fill="none"/>
<path d="M244.90,274.20L235.16,268.27L243.36,262.90Z" fill="#000"/>
<path d="M592.40,249.80L598.75,259.36" stroke="#000" stroke-width="2.5" fill="none"/>
<path d="M603.90,267.10L593.87,261.40L602.53,255.64Z" fill="#000"/>
<path d="M206.20,582.00L214.11,592.80" stroke="#000" stroke-width="2.5" fill="none"/>
<path d="M219.60,600.30L209.32,595.06L217.71,588.92Z" fill="#000"/>
<path d="M550.40,593.90L535.52,605.56" stroke="#000" stroke-width="2.5" fill="none"/>
<path d="M528.20,611.30L533.10,600.85L539.51,609.04Z" fill="#000"/>
</g>
<g id="labels">
<text x="0" y="16.8" font-size="24.5" font-weight="bold" stroke="#000" stroke-width="0.5">A</text>
<text x="104.0" y="309.0" font-size="18.5" text-anchor="middle" stroke="#000" stroke-width="1.0">50</text>
<text x="148.7" y="309.0" font-size="18.5" text-anchor="middle" stroke="#000" stroke-width="1.0">100</text>
<text x="192.5" y="309.0" font-size="18.5" text-anchor="middle" stroke="#000" stroke-width="1.0">150</text>
<text x="232.7" y="309.0" font-size="18.5" text-anchor="middle" stroke="#000" stroke-width="1.0">200</text>
<text x="280.8" y="309.0" font-size="18.5" text-anchor="middle" stroke="#000" stroke-width="1.0">250</text>
<text transform="translate(53.2,51.1) rotate(-90)" font-size="19.5" text-anchor="middle" stroke="#000" stroke-width="1.0">350</text>
<text transform="translate(53.2,84.9) rotate(-90)" font-size="19.5" text-anchor="middle" stroke="#000" stroke-width="1.0">300</text>
<text transform="translate(53.2,117.3) rotate(-90)" font-size="19.5" text-anchor="middle" stroke="#000" stroke-width="1.0">250</text>
<text transform="translate(53.2,151.4) rotate(-90)" font-size="19.5" text-anchor="middle" stroke="#000" stroke-width="1.0">200</text>
<text transform="translate(53.2,182.3) rotate(-90)" font-size="19.5" text-anchor="middle" stroke="#000" stroke-width="1.0">150</text>
<text transform="translate(53.2,214.3) rotate(-90)" font-size="19.5" text-anchor="middle" stroke="#000" stroke-width="1.0">100</text>
<text transform="translate(53.2,248.1) rotate(-90)" font-size="19.5" text-anchor="middle" stroke="#000" stroke-width="1.0">50</text>
<text transform="translate(53.2,281.7) rotate(-90)" font-size="19.5" text-anchor="middle" stroke="#000" stroke-width="1.0">0</text>
<text transform="translate(27.3,181.4) rotate(-90)" font-size="21.5" text-anchor="middle" textLength="49.8" lengthAdjust="spacingAndGlyphs" stroke="#000" stroke-width="0.9">Count</text>
<text transform="translate(27.3,141.45000000000002) rotate(-90)" font-size="21.5" text-anchor="middle" textLength="19.4" lengthAdjust="spacingAndGlyphs" stroke="#000" stroke-width="0.9">of</text>
<text transform="translate(27.3,102.95) rotate(-90)" font-size="21.5" text-anchor="middle" textLength="45.4" lengthAdjust="spacingAndGlyphs" stroke="#000" stroke-width="0.9">nuclei</text>
<text x="111.3" y="333.4" font-size="19.7" textLength="126.0" lengthAdjust="spacingAndGlyphs" stroke="#000" stroke-width="1.15">PI fluorescence</text>
<text x="255.0" y="324.40000000000003" font-size="16.6" textLength="65.2" lengthAdjust="spacing" stroke="#000" stroke-width="0.95">(× 1,000)</text>
<text x="361" y="16.4" font-size="24.5" font-weight="bold" stroke="#000" stroke-width="0.5">B</text>
<text x="467.6" y="310.0" font-size="18.5" text-anchor="middle" stroke="#000" stroke-width="1.0">50</text>
<text x="516.1" y="310.0" font-size="18.5" text-anchor="middle" stroke="#000" stroke-width="1.0">100</text>
<text x="569.0" y="310.0" font-size="18.5" text-anchor="middle" stroke="#000" stroke-width="1.0">150</text>
<text x="616.8" y="310.0" font-size="18.5" text-anchor="middle" stroke="#000" stroke-width="1.0">200</text>
<text x="666.5" y="310.0" font-size="18.5" text-anchor="middle" stroke="#000" stroke-width="1.0">250</text>
<text transform="translate(412.5,62.1) rotate(-90)" font-size="18.8" text-anchor="middle" stroke="#000" stroke-width="1.0">200</text>
<text transform="translate(412.5,113.75) rotate(-90)" font-size="18.8" text-anchor="middle" stroke="#000" stroke-width="1.0">150</text>
<text transform="translate(412.5,170.4) rotate(-90)" font-size="18.8" text-anchor="middle" stroke="#000" stroke-width="1.0">100</text>
<text transform="translate(412.5,225.7) rotate(-90)" font-size="18.8" text-anchor="middle" stroke="#000" stroke-width="1.0">50</text>
<text transform="translate(412.5,284.0) rotate(-90)" font-size="18.8" text-anchor="middle" stroke="#000" stroke-width="1.0">0</text>
<text transform="translate(387.3,181.4) rotate(-90)" font-size="21.5" text-anchor="middle" textLength="49.8" lengthAdjust="spacingAndGlyphs" stroke="#000" stroke-width="0.9">Count</text>
<text transform="translate(387.3,141.45000000000002) rotate(-90)" font-size="21.5" text-anchor="middle" textLength="19.4" lengthAdjust="spacingAndGlyphs" stroke="#000" stroke-width="0.9">of</text>
<text transform="translate(387.3,102.95) rotate(-90)" font-size="21.5" text-anchor="middle" textLength="45.4" lengthAdjust="spacingAndGlyphs" stroke="#000" stroke-width="0.9">nuclei</text>
<text x="478.8" y="333.7" font-size="19.7" textLength="126.5" lengthAdjust="spacingAndGlyphs" stroke="#000" stroke-width="1.15">PI fluorescence</text>
<text x="642.3" y="324.7" font-size="16.6" textLength="65.2" lengthAdjust="spacing" stroke="#000" stroke-width="0.95">(× 1,000)</text>
<text x="0" y="358.5" font-size="24.5" font-weight="bold" stroke="#000" stroke-width="0.5">C</text>
<text x="104.6" y="654.2" font-size="18.5" text-anchor="middle" stroke="#000" stroke-width="1.0">50</text>
<text x="149.3" y="654.2" font-size="18.5" text-anchor="middle" stroke="#000" stroke-width="1.0">100</text>
<text x="193.1" y="654.2" font-size="18.5" text-anchor="middle" stroke="#000" stroke-width="1.0">150</text>
<text x="233.3" y="654.2" font-size="18.5" text-anchor="middle" stroke="#000" stroke-width="1.0">200</text>
<text x="281.4" y="654.2" font-size="18.5" text-anchor="middle" stroke="#000" stroke-width="1.0">250</text>
<text transform="translate(53.2,400.3) rotate(-90)" font-size="18.8" text-anchor="middle" stroke="#000" stroke-width="1.0">350</text>
<text transform="translate(53.2,432.0) rotate(-90)" font-size="18.8" text-anchor="middle" stroke="#000" stroke-width="1.0">300</text>
<text transform="translate(53.2,464.3) rotate(-90)" font-size="18.8" text-anchor="middle" stroke="#000" stroke-width="1.0">250</text>
<text transform="translate(53.2,496.8) rotate(-90)" font-size="18.8" text-anchor="middle" stroke="#000" stroke-width="1.0">200</text>
<text transform="translate(53.2,528.3) rotate(-90)" font-size="18.8" text-anchor="middle" stroke="#000" stroke-width="1.0">150</text>
<text transform="translate(53.2,559.4) rotate(-90)" font-size="18.8" text-anchor="middle" stroke="#000" stroke-width="1.0">100</text>
<text transform="translate(53.2,593.3) rotate(-90)" font-size="18.8" text-anchor="middle" stroke="#000" stroke-width="1.0">50</text>
<text transform="translate(53.2,626.1) rotate(-90)" font-size="18.8" text-anchor="middle" stroke="#000" stroke-width="1.0">0</text>
<text transform="translate(27.3,523.688) rotate(-90)" font-size="21.5" text-anchor="middle" textLength="49.0" lengthAdjust="spacingAndGlyphs" stroke="#000" stroke-width="0.9">Count</text>
<text transform="translate(27.3,484.3772) rotate(-90)" font-size="21.5" text-anchor="middle" textLength="19.1" lengthAdjust="spacingAndGlyphs" stroke="#000" stroke-width="0.9">of</text>
<text transform="translate(27.3,446.4932) rotate(-90)" font-size="21.5" text-anchor="middle" textLength="44.7" lengthAdjust="spacingAndGlyphs" stroke="#000" stroke-width="0.9">nuclei</text>
<text x="111.3" y="677.4" font-size="19.7" textLength="126.0" lengthAdjust="spacingAndGlyphs" stroke="#000" stroke-width="1.15">PI fluorescence</text>
<text x="255.0" y="669.3" font-size="16.6" textLength="65.2" lengthAdjust="spacing" stroke="#000" stroke-width="0.95">(× 1,000)</text>
<text x="361" y="358.2" font-size="24.5" font-weight="bold" stroke="#000" stroke-width="0.5">D</text>
<text x="467.8" y="653.0" font-size="18.5" text-anchor="middle" stroke="#000" stroke-width="1.0">50</text>
<text x="517.0" y="653.0" font-size="18.5" text-anchor="middle" stroke="#000" stroke-width="1.0">100</text>
<text x="569.0" y="653.0" font-size="18.5" text-anchor="middle" stroke="#000" stroke-width="1.0">150</text>
<text x="616.8" y="653.0" font-size="18.5" text-anchor="middle" stroke="#000" stroke-width="1.0">200</text>
<text x="666.5" y="653.0" font-size="18.5" text-anchor="middle" stroke="#000" stroke-width="1.0">250</text>
<text transform="translate(412.5,404.4) rotate(-90)" font-size="18.8" text-anchor="middle" stroke="#000" stroke-width="1.0">200</text>
<text transform="translate(412.5,456.4) rotate(-90)" font-size="18.8" text-anchor="middle" stroke="#000" stroke-width="1.0">150</text>
<text transform="translate(412.5,513.4) rotate(-90)" font-size="18.8" text-anchor="middle" stroke="#000" stroke-width="1.0">100</text>
<text transform="translate(412.5,569.2) rotate(-90)" font-size="18.8" text-anchor="middle" stroke="#000" stroke-width="1.0">50</text>
<text transform="translate(412.5,626.1) rotate(-90)" font-size="18.8" text-anchor="middle" stroke="#000" stroke-width="1.0">0</text>
<text transform="translate(387.3,523.688) rotate(-90)" font-size="21.5" text-anchor="middle" textLength="49.0" lengthAdjust="spacingAndGlyphs" stroke="#000" stroke-width="0.9">Count</text>
<text transform="translate(387.3,484.3772) rotate(-90)" font-size="21.5" text-anchor="middle" textLength="19.1" lengthAdjust="spacingAndGlyphs" stroke="#000" stroke-width="0.9">of</text>
<text transform="translate(387.3,446.4932) rotate(-90)" font-size="21.5" text-anchor="middle" textLength="44.7" lengthAdjust="spacingAndGlyphs" stroke="#000" stroke-width="0.9">nuclei</text>
<text x="479.6" y="677.4" font-size="19.7" textLength="126.0" lengthAdjust="spacingAndGlyphs" stroke="#000" stroke-width="1.15">PI fluorescence</text>
<text x="643.3" y="667.5" font-size="16.6" textLength="65.2" lengthAdjust="spacing" stroke="#000" stroke-width="0.95">(× 1,000)</text>
<text x="112.3" y="45.6" font-size="20.5" font-style="italic" textLength="121.3" lengthAdjust="spacingAndGlyphs" stroke="#000" stroke-width="1.0">P. szechuanica</text>
<text x="167.3" y="111.5" font-size="20.5" font-style="italic" textLength="58.0" lengthAdjust="spacingAndGlyphs" stroke="#000" stroke-width="1.0">G. max</text>
<text x="185.6" y="221.6" font-size="19.4" textLength="93.5" lengthAdjust="spacingAndGlyphs" stroke="#000" stroke-width="0.95">G2 peak of</text>
<text x="185.9" y="246.6" font-size="20.5" font-style="italic" textLength="58.5" lengthAdjust="spacingAndGlyphs" stroke="#000" stroke-width="1.0">G. max</text>
<text x="429.8" y="119.7" font-size="16" font-style="italic" textLength="72.2" lengthAdjust="spacingAndGlyphs" stroke="#000" stroke-width="0.85">C. calycina</text>
<text x="540.8" y="73.0" font-size="20.5" font-style="italic" textLength="58.4" lengthAdjust="spacingAndGlyphs" stroke="#000" stroke-width="1.0">G. max</text>
<text x="563.6" y="220.8" font-size="19.4" textLength="93.2" lengthAdjust="spacingAndGlyphs" stroke="#000" stroke-width="0.95">G2 peak of</text>
<text x="564.3" y="245.6" font-size="20.5" font-style="italic" textLength="58.2" lengthAdjust="spacingAndGlyphs" stroke="#000" stroke-width="1.0">G. max</text>
<text x="116.5" y="391.6" font-size="20.5" font-style="italic" textLength="102" lengthAdjust="spacingAndGlyphs" stroke="#000" stroke-width="1.0">I. polycarpa</text>
<text x="132.2" y="519.7" font-size="20.5" font-style="italic" textLength="63.8" lengthAdjust="spacingAndGlyphs" stroke="#000" stroke-width="1.0">Z. mays</text>
<text x="180.8" y="551.4" font-size="19.4" textLength="92.5" lengthAdjust="spacingAndGlyphs" stroke="#000" stroke-width="0.95">G2 peak of</text>
<text x="180.3" y="576.6" font-size="20.5" font-style="italic" textLength="63.0" lengthAdjust="spacingAndGlyphs" stroke="#000" stroke-width="1.0">Z. mays</text>
<text x="521.5" y="410.9" font-size="20.5" font-style="italic" textLength="103" lengthAdjust="spacingAndGlyphs" stroke="#000" stroke-width="1.0">D. turbinata</text>
<text x="433.5" y="475.4" font-size="17.5" font-style="italic" textLength="57.5" lengthAdjust="spacingAndGlyphs" stroke="#000" stroke-width="0.9">Z. mays</text>
<text x="558.2" y="568.6" font-size="19.4" textLength="93.1" lengthAdjust="spacingAndGlyphs" stroke="#000" stroke-width="0.95">G2 peak of</text>
<text x="557.5" y="594.6" font-size="20.5" font-style="italic" textLength="63.8" lengthAdjust="spacingAndGlyphs" stroke="#000" stroke-width="1.0">Z. mays</text>
</g>
</svg>
</body></html>
